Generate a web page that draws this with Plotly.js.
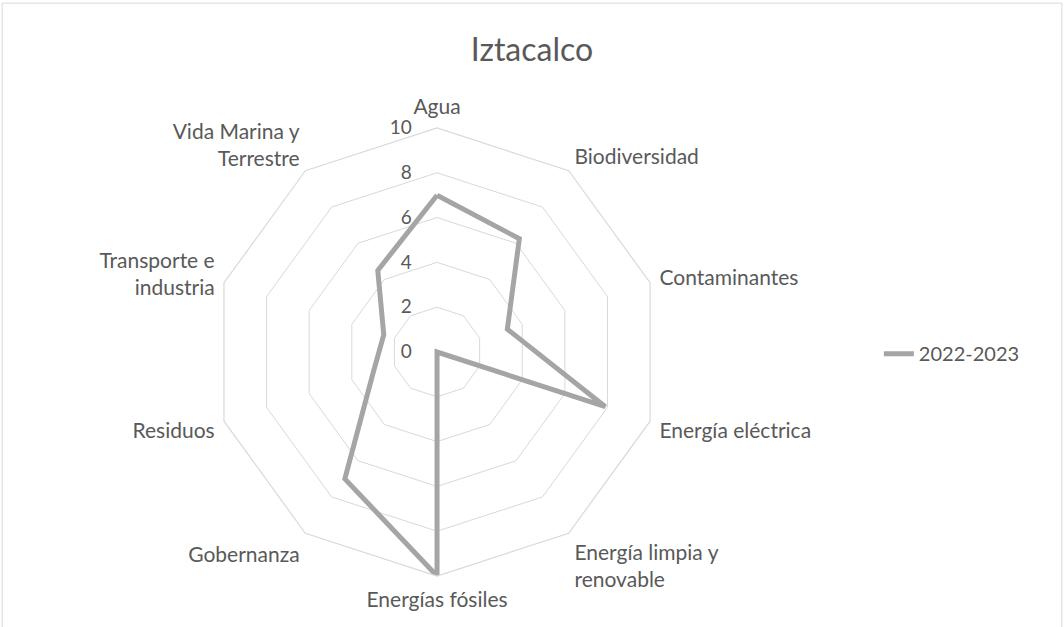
<!DOCTYPE html>
<html>
<head>
<meta charset="utf-8">
<script src="https://cdn.plot.ly/plotly-3.0.1.min.js"></script>
<style>
  html, body { margin: 0; padding: 0; background: #fff; }
  #plot { width: 1064px; height: 627px; }
</style>
</head>
<body>
<div id="plot"></div>
<script>
// Categories (clockwise from the top)
let categories = [
  "Agua",
  "Biodiversidad",
  "Contaminantes",
  "Energía eléctrica",
  "Energía limpia y<br>renovable",
  "Energías fósiles",
  "Gobernanza",
  "Residuos",
  "Transporte e<br>industria",
  "Vida Marina y<br>Terrestre"
]
// Series values
let values2022 = [7, 6.25, 3.3, 7.9, 0, 10, 7, 3, 2.5, 4.5]
let radialTicks = [0, 2, 4, 6, 8, 10]

// close the loop
let theta = categories.concat([categories[0]])
let r = values2022.concat([values2022[0]])

let trace1 = {
  type: "scatterpolar",
  mode: "lines",
  name: "2022-2023",
  theta: theta,
  r: r,
  line: { color: "#a5a5a5", width: 5 },
  hoverinfo: "skip"
}

let font = "Lato, 'Noto Sans', sans-serif"

let layout = {
  width: 1064,
  height: 627,
  paper_bgcolor: "#ffffff",
  margin: { l: 0, r: 0, t: 0, b: 0 },
  font: { family: font, color: "#595959", size: 20 },
  title: {
    text: "Iztacalco",
    font: { family: font, size: 32, color: "#595959" },
    x: 0.5, xanchor: "center",
    y: 0.92, yanchor: "middle"
  },
  showlegend: true,
  legend: {
    x: 0.826, xanchor: "left",
    y: 0.436, yanchor: "middle",
    font: { size: 20, color: "#595959" }
  },
  polar: {
    domain: { x: [0.1974, 0.6241], y: [0.0813, 0.7959] },
    gridshape: "linear",
    bgcolor: "rgba(0,0,0,0)",
    angularaxis: {
      rotation: 90,
      direction: "clockwise",
      showgrid: false,
      showline: true,
      linecolor: "#d9d9d9",
      linewidth: 1.2,
      ticks: "outside",
      ticklen: 5,
      tickcolor: "rgba(0,0,0,0)",
      tickfont: { size: 21, color: "#595959" }
    },
    radialaxis: {
      range: [0, 10],
      tickvals: radialTicks,
      angle: 90,
      tickangle: 90,
      side: "counterclockwise",
      showline: false,
      ticks: "outside",
      ticklen: 18,
      tickcolor: "rgba(0,0,0,0)",
      gridcolor: "#d9d9d9",
      gridwidth: 1.2,
      tickfont: { size: 19, color: "#595959" }
    }
  },
  shapes: [{
    type: "rect", xref: "paper", yref: "paper",
    x0: 0.002, x1: 0.998, y0: -0.01, y1: 0.995,
    line: { color: "#d9d9d9", width: 1 }
  }]
}

Plotly.newPlot("plot", [trace1], layout, { displayModeBar: false })
</script>
</body>
</html>
